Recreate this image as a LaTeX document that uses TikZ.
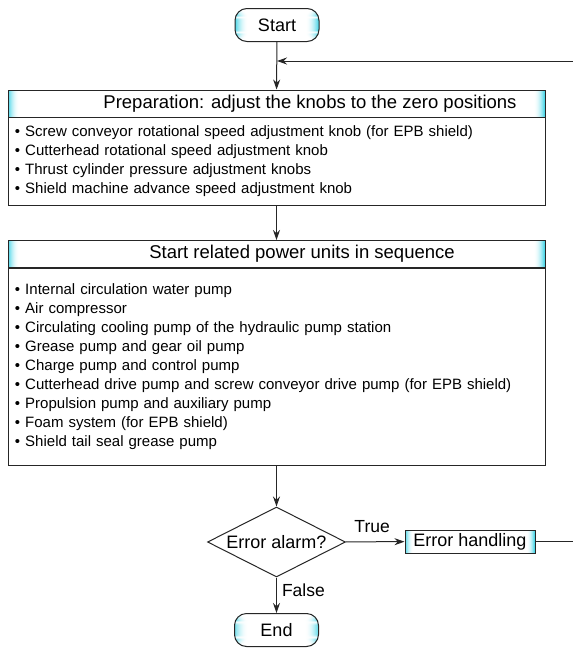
\documentclass[tikz,border=0pt]{standalone}
\usepackage{fontspec}
\setmainfont{Liberation Sans}
\usetikzlibrary{shapes.geometric,arrows.meta,calc}

\definecolor{edgecyan}{RGB}{80,215,232}

\tikzset{
  x=1pt, y=-1pt,
  line/.style={draw=black!85, line width=1pt},
  arrow/.style={line, -{Stealth[length=10pt,width=7pt]}},
  % cyan fades inward from both side edges of a shape, in thin strips
  edgeshade/.style={path picture={
      \foreach \i in {0,...,#1}{
        \pgfmathsetmacro\p{100*(1-\i/#1)^2}
        \fill[edgecyan!\p!white]
          ([xshift=\i pt]path picture bounding box.south west) rectangle
          ([xshift=\i pt+1.2pt]path picture bounding box.north west);
        \fill[edgecyan!\p!white]
          ([xshift=-\i pt]path picture bounding box.south east) rectangle
          ([xshift=-\i pt-1.2pt]path picture bounding box.north east);
      }
  }},
  term/.style={line, rounded corners=12pt, fill=white, edgeshade=13,
    minimum width=84pt, minimum height=33pt, inner sep=0pt,
    font=\fontsize{18}{20}\selectfont},
  headbox/.style={line, fill=white, edgeshade=11, minimum width=537pt,
    minimum height=27pt, inner sep=0pt},
  headtext/.style={font=\fontsize{18.5}{20}\selectfont, inner sep=0pt},
  bodybox/.style={line, fill=white, text width=523pt, align=left,
    inner xsep=7pt, inner ysep=0pt, minimum width=537pt,
    font=\fontsize{15}{19}\selectfont},
  decision/.style={line, diamond, aspect=2, fill=white, minimum width=138pt,
    minimum height=70pt, inner sep=0pt, font=\fontsize{18}{20}\selectfont},
  process/.style={line, fill=white, edgeshade=8, minimum width=130pt,
    minimum height=23pt, inner sep=0pt, font=\fontsize{18}{20}\selectfont},
  lbl/.style={font=\fontsize{17.5}{20}\selectfont, inner sep=0pt}
}

\begin{document}
\begin{tikzpicture}
\useasboundingbox (0,0) rectangle (573,651);

% terminators
\node[term] (start) at (277,25) {Start};

% preparation block
\node[headbox] (prephead) at (276.5,103.5) {};
\node[headtext] (preptitle) at (310,103.5) {Preparation: adjust the knobs to the zero positions};
\node[bodybox, minimum height=88pt, anchor=north] (prepbody) at (276.5,117) {%
  • Screw conveyor rotational speed adjustment knob (for EPB shield)\\
  • Cutterhead rotational speed adjustment knob\\
  • Thrust cylinder pressure adjustment knobs\\
  • Shield machine advance speed adjustment knob};

% power units block
\node[headbox] (powhead) at (276.5,254) {};
\node[headtext] (powtitle) at (302,254) {Start related power units in sequence};
\node[bodybox, minimum height=197pt, anchor=north] (powbody) at (276.5,268) {%
  • Internal circulation water pump\\
  • Air compressor\\
  • Circulating cooling pump of the hydraulic pump station\\
  • Grease pump and gear oil pump\\
  • Charge pump and control pump\\
  • Cutterhead drive pump and screw conveyor drive pump (for EPB shield)\\
  • Propulsion pump and auxiliary pump\\
  • Foam system (for EPB shield)\\
  • Shield tail seal grease pump};

% decision and outcomes
\node[decision] (alarm) at (276.5,542) {Error alarm?};
\node[process] (handle) at (470,541.5) {Error handling};
\node[term] (end) at (276.5,630) {End};

% loop-back junction above the preparation block
\coordinate (join) at (277,61);
\coordinate (rightup) at (577,61);
\coordinate (rightdown) at (577,541.5);

% connectors
\draw[arrow] (start) -- (prephead);
\draw[arrow] (prepbody) -- (powhead);
\draw[arrow] (powbody) -- (alarm);
\draw[arrow] (alarm) -- node[lbl, above=9pt, pos=0.45] {True} (handle);
\draw[arrow] (alarm) -- node[lbl, right=5pt, pos=0.36] {False} (end);
\draw[arrow] (handle.east) -- (rightdown) -- (rightup) -- (join);
\end{tikzpicture}
\end{document}
